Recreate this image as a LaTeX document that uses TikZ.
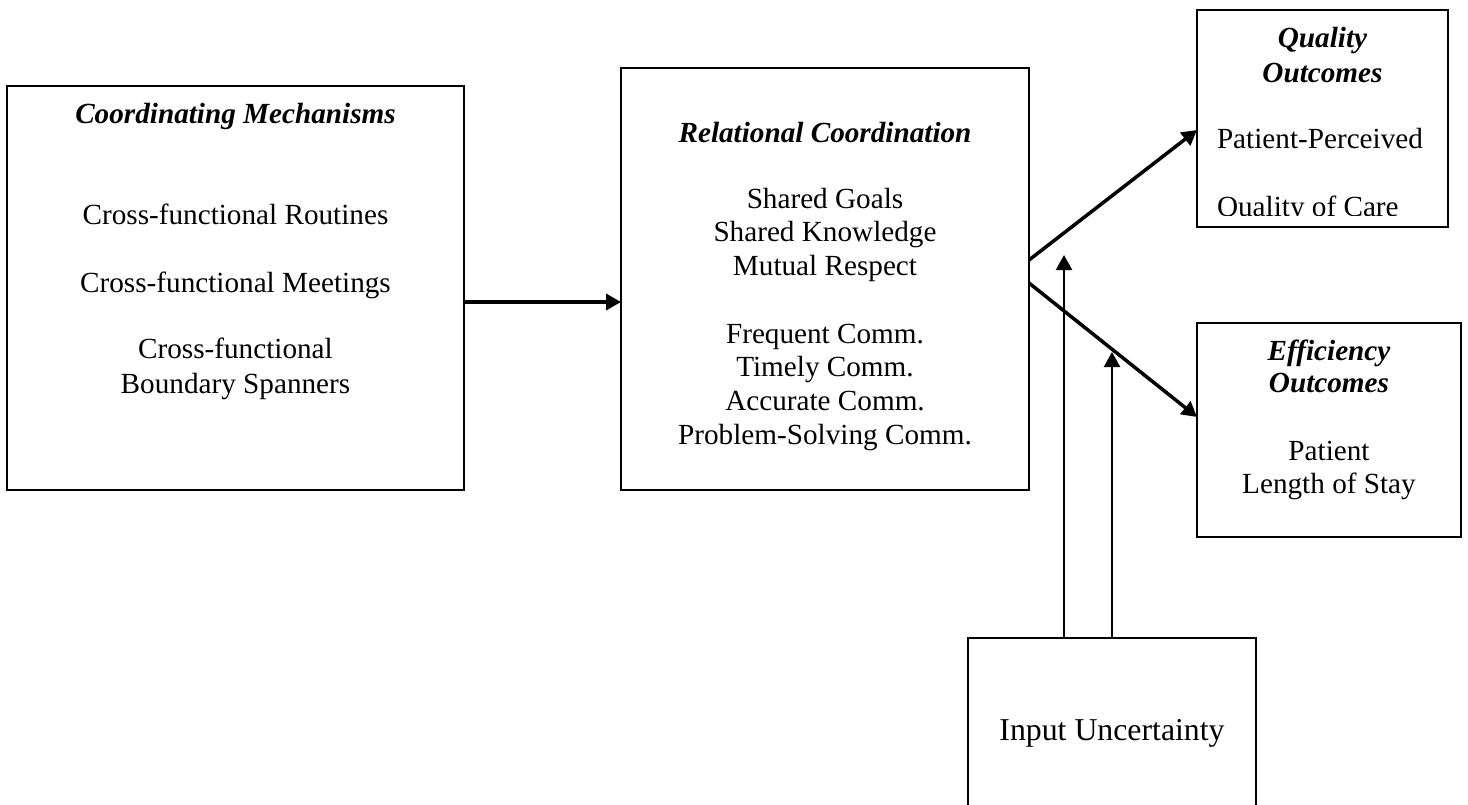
\documentclass[tikz,border=0pt]{standalone}
\usepackage{fontspec}
\setmainfont{Liberation Serif}
\usetikzlibrary{arrows.meta,fit}

\begin{document}
\begin{tikzpicture}[
    x=0.5pt, y=-0.5pt,
    every node/.style={inner sep=0pt, outer sep=0pt},
    box/.style={draw, line width=0.85pt},
    txt/.style={anchor=base, font=\fontsize{14.6pt}{17pt}\selectfont},
    head/.style={txt, font=\fontsize{14.6pt}{17pt}\selectfont\bfseries\itshape},
    ltxt/.style={txt, anchor=base west},
    tip/.style={-{Triangle[length=7.5pt, width=8pt]}},
    mainarrow/.style={tip, line width=2pt},
    diagarrow/.style={tip, line width=1.75pt},
    modarrow/.style={tip, line width=1.15pt},
  ]
  \useasboundingbox (0,0) rectangle (1468,804);

  % boxes
  \node[box, fit={(7,86) (464,490)}] (cm) {};
  \node[box, fit={(621,68) (1029,490)}] (rc) {};
  \node[box, fit={(1197,10) (1448,227)}] (qo) {};
  \node[box, fit={(1197,323) (1461,537)}] (eo) {};
  \node[box, fit={(968,638) (1256,860)}] (iu) {};

  % coordinating mechanisms
  \node[head] (cmT) at (235.5,123) {Coordinating Mechanisms};
  \node[txt] (cm1) at (235.5,224) {Cross-functional Routines};
  \node[txt] (cm2) at (235.5,292) {Cross-functional Meetings};
  \node[txt] (cm3) at (235.5,358) {Cross-functional};
  \node[txt] (cm4) at (235.5,393) {Boundary Spanners};

  % relational coordination
  \node[head] (rcT) at (825,142) {Relational Coordination};
  \node[txt] (rc1) at (825,208) {Shared Goals};
  \node[txt] (rc2) at (825,241.7) {Shared Knowledge};
  \node[txt] (rc3) at (825,275.4) {Mutual Respect};
  \node[txt] (rc4) at (825,343) {Frequent Comm.};
  \node[txt] (rc5) at (825,376.7) {Timely Comm.};
  \node[txt] (rc6) at (825,410.4) {Accurate Comm.};
  \node[txt] (rc7) at (825,444) {Problem-Solving Comm.};

  % quality outcomes
  \node[head] (qoT1) at (1322.5,47) {Quality};
  \node[head] (qoT2) at (1322.5,82) {Outcomes};
  \node[ltxt] (qo1) at (1217,148) {Patient-Perceived};
  \begin{scope}
    \clip (1197,10) rectangle (1448,215);
    \node[ltxt] (qo2) at (1217,216) {Quality of Care};
  \end{scope}

  % efficiency outcomes
  \node[head] (eoT1) at (1329,360) {Efficiency};
  \node[head] (eoT2) at (1329,392) {Outcomes};
  \node[txt] (eo1) at (1329,460) {Patient};
  \node[txt] (eo2) at (1329,493) {Length of Stay};

  % input uncertainty
  \node[txt, font=\fontsize{15.9pt}{18pt}\selectfont] (iuT) at (1112,740) {Input Uncertainty};

  % connectors
  \coordinate (hy) at (0,302);
  \draw[mainarrow] (cm.east |- hy) -- (rc.west |- hy);

  \coordinate (upS) at (0,260);
  \coordinate (upE) at (0,130);
  \draw[diagarrow] (rc.east |- upS) -- (qo.west |- upE);

  \coordinate (loS) at (0,283);
  \coordinate (loE) at (0,417);
  \draw[diagarrow] (rc.east |- loS) -- (eo.west |- loE);

  \coordinate (m1) at (1064,255);
  \coordinate (m2) at (1112,352);
  \draw[modarrow] (iu.north -| m1) -- (m1);
  \draw[modarrow] (iu.north -| m2) -- (m2);
\end{tikzpicture}
\end{document}
